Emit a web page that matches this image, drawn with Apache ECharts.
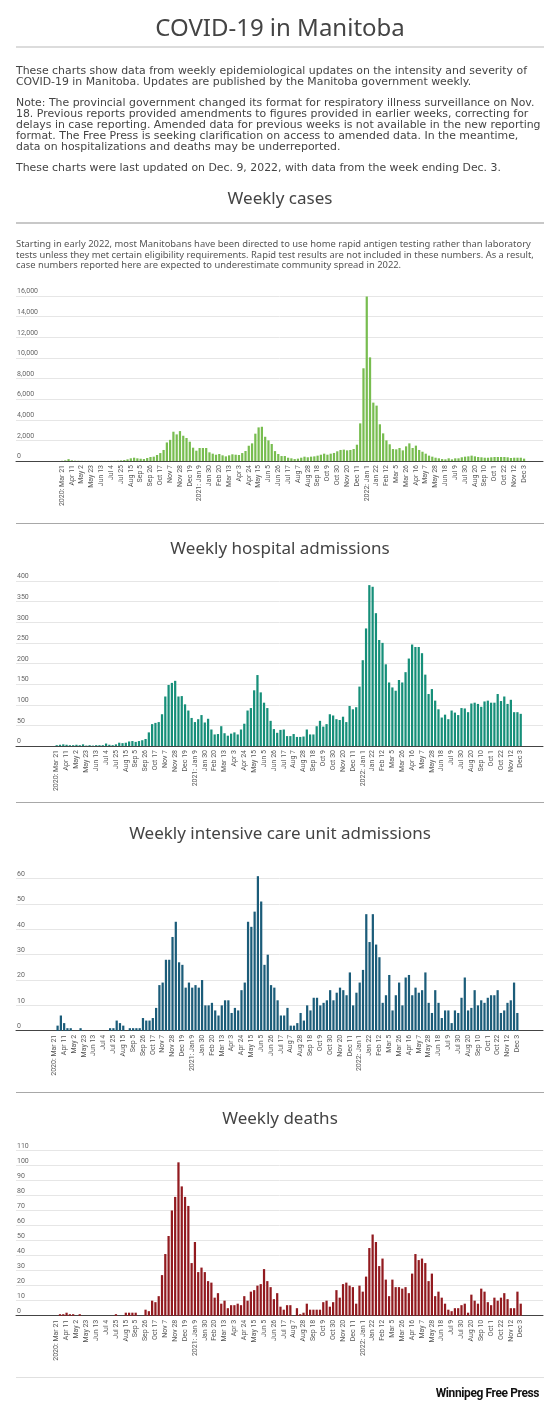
<!DOCTYPE html>
<html>
<head>
<meta charset="utf-8">
<title>COVID-19 in Manitoba</title>
<script src="https://cdn.jsdelivr.net/npm/echarts@6/dist/echarts.min.js"></script>
<style>
body { margin: 0; background: #fff; }
#page { position: relative; width: 560px; height: 1412px; overflow: hidden; font-family: 'Noto Sans', 'Open Sans', sans-serif; color: #444; }
#chart { position: absolute; left: 0; top: 0; width: 560px; height: 1412px; }
.txt { position: absolute; left: 16px; white-space: nowrap; z-index: 2; }
.hd { position: absolute; left: 0; width: 560px; text-align: center; font-size: 17px; line-height: 17px; color: #444; z-index: 2; }
.rule { position: absolute; left: 16px; width: 528px; z-index: 2; }
.body { font-family: 'DejaVu Sans', sans-serif; font-size: 10.9px; line-height: 11px; }
.small { font-size: 9.4px; line-height: 10.4px; color: #555; }
.logo { position: absolute; right: 21px; top: 1386px; font-family: 'Liberation Sans Narrow', 'Roboto', sans-serif; font-weight: 700; font-size: 12px; letter-spacing: -0.4px; color: #111; z-index: 2; }
</style>
</head>
<body>
<div id="page">
  <div id="chart"></div>

  <div class="hd" style="top:15px;font-size:24px;line-height:24px;">COVID-19 in Manitoba</div>
  <div class="rule" style="top:45.5px;height:2px;background:#dcdcdc;"></div>

  <div class="txt body" style="top:64.7px;">These charts show data from weekly epidemiological updates on the intensity and severity of<br>COVID-19 in Manitoba. Updates are published by the Manitoba government weekly.</div>
  <div class="txt body" style="top:96.7px;">Note: The provincial government changed its format for respiratory illness surveillance on Nov.<br>18. Previous reports provided amendments to figures provided in earlier weeks, correcting for<br>delays in case reporting. Amended data for previous weeks is not available in the new reporting<br>format. The Free Press is seeking clarification on access to amended data. In the meantime,<br>data on hospitalizations and deaths may be underreported.</div>
  <div class="txt body" style="top:162.4px;">These charts were last updated on Dec. 9, 2022, with data from the week ending Dec. 3.</div>

  <div class="hd" style="top:189px;">Weekly cases</div>
  <div class="rule" style="top:221.5px;height:2px;background:#c8c8c8;"></div>
  <div class="txt small" style="top:239.3px;">Starting in early 2022, most Manitobans have been directed to use home rapid antigen testing rather than laboratory<br>tests unless they met certain eligibility requirements. Rapid test results are not included in these numbers. As a result,<br>case numbers reported here are expected to underestimate community spread in 2022.</div>

  <div class="rule" style="top:523px;height:1px;background:#a8a8a8;"></div>
  <div class="hd" style="top:539px;">Weekly hospital admissions</div>

  <div class="rule" style="top:802px;height:1px;background:#a8a8a8;"></div>
  <div class="hd" style="top:824px;">Weekly intensive care unit admissions</div>

  <div class="rule" style="top:1092px;height:1px;background:#a8a8a8;"></div>
  <div class="hd" style="top:1109px;">Weekly deaths</div>

  <div class="rule" style="top:1377px;height:1px;background:#e0e0e0;"></div>
  <div class="logo">Winnipeg Free Press</div>
</div>

<script>
// week-ending dates, one label every third week
var tickLabels = ['2020: Mar 21','Apr 11','May 2','May 23','Jun 13','Jul 4','Jul 25','Aug 15','Sep 5','Sep 26',
  'Oct 17','Nov 7','Nov 28','Dec 19','2021: Jan 9','Jan 30','Feb 20','Mar 13','Apr 3','Apr 24',
  'May 15','Jun 5','Jun 26','Jul 17','Aug 7','Aug 28','Sep 18','Oct 9','Oct 30','Nov 20',
  'Dec 11','2022: Jan 1','Jan 22','Feb 12','Mar 5','Mar 26','Apr 16','May 7','May 28','Jun 18',
  'Jul 9','Jul 30','Aug 20','Sep 10','Oct 1','Oct 22','Nov 12','Dec 3'];

var weeklyCases = [
  20, 60, 180, 60, 30, 20, 15, 10, 10, 10,
  5, 5, 10, 10, 10, 15, 20, 30, 60, 100,
  160, 260, 320, 260, 220, 190, 290, 390, 420, 580,
  770, 1070, 1800, 2050, 2840, 2580, 2900, 2450, 2230, 1870,
  1290, 1000, 1260, 1260, 1260, 840, 710, 610, 680, 550,
  450, 550, 650, 610, 580, 770, 970, 1480, 1710, 2650,
  3260, 3320, 2350, 2000, 1650, 960, 680, 480, 480, 320,
  260, 190, 230, 320, 420, 360, 420, 450, 520, 610,
  710, 610, 710, 780, 940, 1070, 1100, 1030, 1070, 1160,
  1580, 3650, 8990, 15950, 10050, 5660, 5370, 3560, 2680, 2000,
  1620, 1160, 1130, 1260, 1030, 1420, 1710, 1260, 1490, 1070,
  900, 710, 520, 420, 320, 260, 190, 160, 260, 160,
  260, 260, 360, 420, 450, 520, 450, 390, 360, 320,
  320, 360, 390, 390, 390, 390, 360, 290, 320, 320,
  320, 230];

var hospitalAdmissions = [
  2, 3, 4, 3, 2, 2, 3, 2, 4, 1,
  2, 1, 2, 2, 2, 6, 3, 2, 4, 8,
  7, 8, 11, 12, 10, 12, 14, 17, 33, 53,
  56, 58, 77, 120, 148, 153, 158, 120, 121, 101,
  86, 68, 58, 65, 75, 57, 66, 40, 28, 29,
  48, 31, 25, 30, 33, 28, 40, 54, 86, 92,
  135, 172, 130, 105, 92, 61, 41, 32, 39, 40,
  24, 24, 29, 22, 22, 23, 40, 28, 28, 48,
  61, 47, 53, 77, 74, 65, 63, 71, 58, 97,
  89, 94, 144, 208, 285, 390, 386, 322, 257, 250,
  198, 154, 142, 134, 160, 154, 179, 212, 246, 240,
  240, 225, 173, 126, 138, 110, 89, 69, 76, 65,
  86, 81, 75, 92, 91, 82, 103, 105, 102, 95,
  108, 110, 105, 105, 126, 109, 120, 102, 112, 82,
  82, 78];

var icuAdmissions = [
  0, 2, 6, 3, 1, 1, 0, 0, 1, 0,
  0, 0, 0, 0, 0, 0, 0, 1, 1, 4,
  3, 2, 0, 1, 1, 1, 1, 5, 4, 4,
  5, 9, 18, 19, 28, 28, 37, 43, 27, 26,
  17, 19, 17, 18, 17, 20, 10, 10, 11, 8,
  6, 10, 12, 12, 7, 9, 8, 16, 19, 43,
  41, 47, 61, 51, 26, 30, 18, 17, 12, 6,
  6, 9, 2, 2, 3, 7, 4, 10, 8, 13,
  13, 10, 11, 12, 16, 12, 15, 17, 16, 14,
  23, 10, 15, 19, 24, 46, 35, 46, 34, 29,
  11, 14, 22, 8, 14, 19, 10, 21, 22, 14,
  17, 15, 16, 23, 11, 7, 16, 11, 5, 8,
  8, 3, 8, 7, 13, 21, 8, 9, 16, 10,
  12, 11, 13, 14, 14, 16, 7, 8, 11, 12,
  19, 7];

var weeklyDeaths = [
  0, 1, 1, 2, 1, 1, 0, 1, 0, 0,
  0, 0, 0, 0, 0, 0, 0, 0, 1, 0,
  0, 2, 2, 2, 2, 0, 0, 4, 3, 10,
  9, 13, 27, 41, 53, 70, 79, 102, 86, 79,
  73, 35, 49, 29, 32, 29, 23, 22, 12, 15,
  8, 10, 5, 7, 7, 8, 7, 13, 10, 16,
  17, 20, 21, 31, 23, 19, 11, 15, 6, 4,
  7, 7, 0, 5, 1, 2, 8, 4, 4, 4,
  4, 9, 10, 6, 9, 17, 12, 21, 22, 20,
  19, 8, 20, 16, 26, 45, 54, 49, 33, 38,
  24, 13, 24, 19, 19, 18, 19, 15, 28, 41,
  37, 38, 35, 23, 28, 13, 16, 12, 8, 4,
  3, 5, 5, 7, 8, 2, 14, 10, 8, 18,
  16, 9, 7, 12, 10, 12, 15, 11, 5, 5,
  16, 8];

var weeks = weeklyCases.map(function (v, i) { return 'w' + i; });

// one block per chart: where it sits on the page and how it looks
var blocks = [
  { data: weeklyCases, max: 16000, step: 2000, top: 296, height: 165, x0: 62, dx: 3.277, color: '#78bd50' },
  { data: hospitalAdmissions, max: 400, step: 50, top: 581, height: 165, x0: 56.7, dx: 3.291, color: '#168f79' },
  { data: icuAdmissions, max: 60, step: 10, top: 878.7, height: 152, x0: 54.3, dx: 3.284, color: '#1b5c79' },
  { data: weeklyDeaths, max: 110, step: 10, top: 1150.3, height: 165.4, x0: 56.7, dx: 3.291, color: '#921a1f' }
];

var grids = [], xAxes = [], yAxes = [], series = [];

blocks.forEach(function (b, k) {
  var g0 = k * 2, g1 = k * 2 + 1;
  // full width grid: gridlines, y labels, baseline
  grids.push({ left: 16, top: b.top, width: 527, height: b.height, outerBoundsMode: 'none' });
  // grid holding the bars
  grids.push({ left: b.x0 - b.dx / 2, top: b.top, width: b.dx * weeks.length, height: b.height, outerBoundsMode: 'none' });

  xAxes.push({
    gridIndex: g0, type: 'value', min: 0, max: 1, position: 'bottom',
    axisLine: { show: true, onZero: false, lineStyle: { color: '#444', width: 1 } },
    axisTick: { show: false }, axisLabel: { show: false }, splitLine: { show: false }
  });
  xAxes.push({
    gridIndex: g1, type: 'category', data: weeks, boundaryGap: true,
    axisLine: { show: false }, axisTick: { show: false }, splitLine: { show: false },
    axisLabel: {
      interval: 2, rotate: 90, margin: 4, fontSize: 7, color: '#555', fontFamily: 'Roboto',
      formatter: function (v, i) { return i % 3 === 0 ? tickLabels[i / 3] : ''; }
    }
  });

  yAxes.push({
    gridIndex: g0, type: 'value', min: 0, max: b.max, interval: b.step,
    axisLine: { show: false }, axisTick: { show: false },
    splitLine: { show: true, lineStyle: { color: '#e6e6e6', width: 1 } },
    axisLabel: {
      inside: true, margin: 1, fontSize: 7, color: '#666', fontFamily: 'Roboto',
      verticalAlign: 'bottom', padding: [0, 0, 1, 0],
      showMinLabel: true, showMaxLabel: true,
      formatter: function (v) { return v.toLocaleString('en-US'); }
    }
  });
  yAxes.push({ gridIndex: g1, type: 'value', min: 0, max: b.max, show: false });

  series.push({
    type: 'bar', xAxisIndex: g1, yAxisIndex: g1, data: b.data,
    barWidth: '68%', clip: false, silent: true,
    itemStyle: { color: b.color }
  });
});

var chart = echarts.init(document.getElementById('chart'), null, { renderer: 'canvas' });
chart.setOption({
  animation: false,
  backgroundColor: 'transparent',
  grid: grids,
  xAxis: xAxes,
  yAxis: yAxes,
  series: series
});
</script>
</body>
</html>
